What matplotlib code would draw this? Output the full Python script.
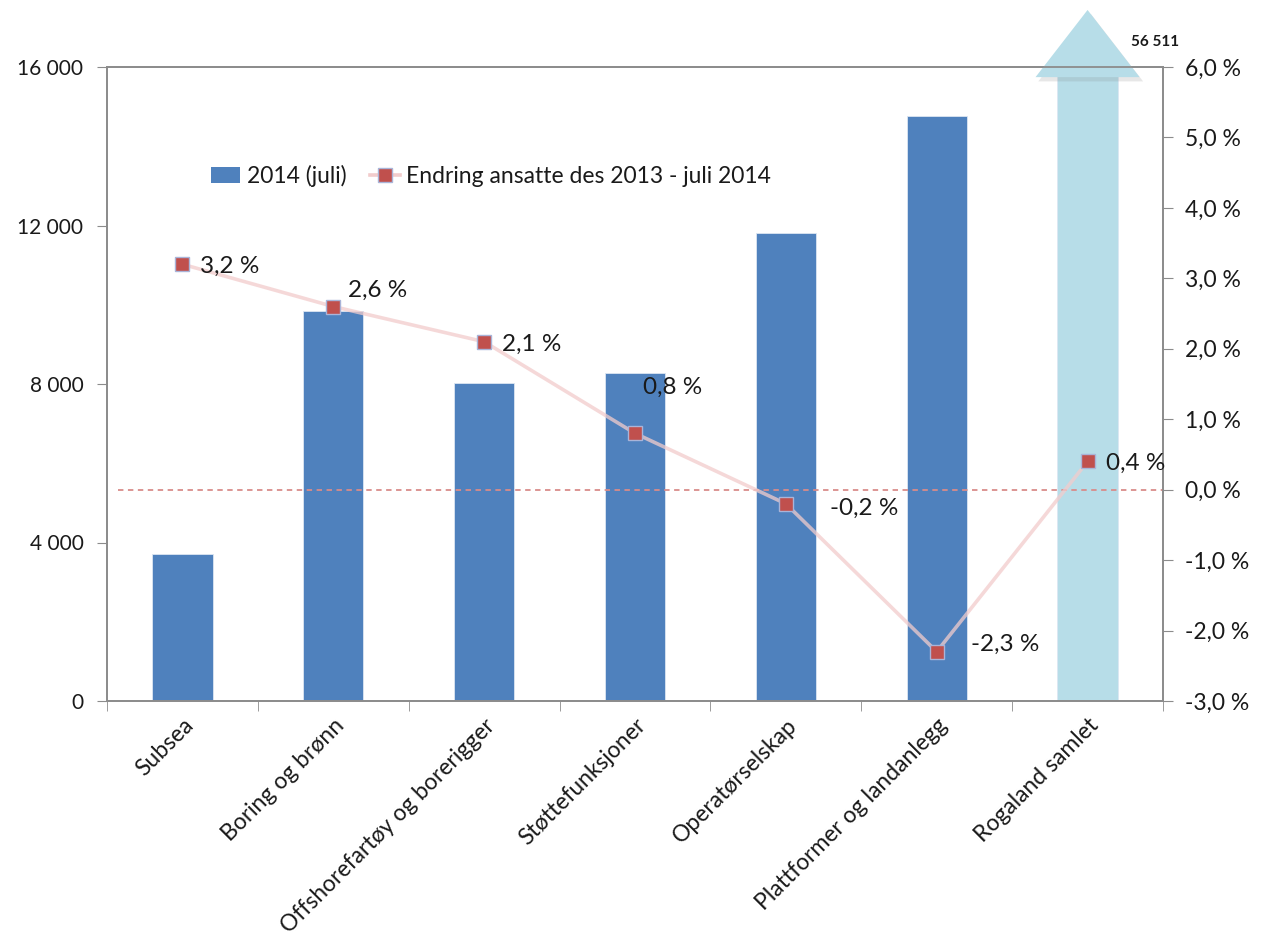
import matplotlib.pyplot as plt
import matplotlib.transforms as mtransforms
from matplotlib.patches import Polygon, Patch
from matplotlib.lines import Line2D
from matplotlib.ticker import FuncFormatter, FixedLocator

# data
categories = ["Subsea", "Boring og brønn", "Offshorefartøy og borerigger",
              "Støttefunksjoner", "Operatørselskap", "Plattformer og landanlegg",
              "Rogaland samlet"]
ansatte_2014 = [3700, 9850, 8030, 8280, 11800, 14760, 56511]
endring_pct = [3.2, 2.6, 2.1, 0.8, -0.2, -2.3, 0.4]
left_ticks = [0, 4000, 8000, 12000, 16000]
right_ticks = [-3, -2, -1, 0, 1, 2, 3, 4, 5, 6]

# label offsets (pixels) for the percentage labels
label_offsets = [(18, -2), (15, 16), (18, -3), (8, 46), (44, -5), (34, 7), (18, -2)]

plt.rcParams['font.family'] = ['Lato', 'DejaVu Sans']

bar_blue = '#4f81bd'
bar_light = '#b7dde8'
axis_grey = '#8c8c8c'
txt = '#1a1a1a'

fig = plt.figure(figsize=(12.64, 9.48), dpi=100)
ax = fig.add_axes([107 / 1264, 1 - 701 / 948, 1056 / 1264, 634 / 948])
x = list(range(len(categories)))

colors = [bar_blue] * (len(categories) - 1) + [bar_light]
ax.bar(x, ansatte_2014, width=0.4, color=colors, edgecolor='#dce6f2', linewidth=0.6, zorder=2)
ax.set_xlim(-0.5, len(categories) - 0.5)
ax.set_ylim(0, 16000)
ax.yaxis.set_major_locator(FixedLocator(left_ticks))
ax.yaxis.set_major_formatter(FuncFormatter(lambda v, p: f"{v:,.0f}".replace(",", " ")))

ax.set_xticks(x)
ax.set_xticklabels(categories, rotation=45, ha='right', rotation_mode='anchor',
                   fontsize=16.5, color=txt)
ax.set_xticks([i - 0.5 for i in range(len(categories) + 1)], minor=True)
ax.tick_params(axis='x', which='major', length=0, pad=10)
ax.tick_params(axis='x', which='minor', length=7, color=axis_grey, direction='out')
ax.tick_params(axis='y', length=7, color=axis_grey, labelsize=15, labelcolor=txt, pad=10)
for s in ax.spines.values():
    s.set_color(axis_grey)
    s.set_linewidth(1.3)

# arrow head on top of the total bar (value goes way above the axis)
trans = mtransforms.blended_transform_factory(ax.transData, ax.transAxes)
xi = len(categories) - 1
shadow = Polygon([(xi - 0.34, 0.982), (xi + 0.355, 0.982), (xi + 0.01, 1.088)],
                 closed=True, transform=trans + mtransforms.ScaledTranslation(2 / 100, -3 / 100, fig.dpi_scale_trans),
                 facecolor='#7f7f7f', alpha=0.18, edgecolor='none', clip_on=False, zorder=5)
ax.add_patch(shadow)
head = Polygon([(xi - 0.345, 0.984), (xi + 0.345, 0.984), (xi, 1.09)], closed=True,
               transform=trans, facecolor=bar_light, edgecolor='none', clip_on=False, zorder=6)
ax.add_patch(head)
ax.text(xi + 0.29, 1.039, f"{ansatte_2014[-1]:,}".replace(",", " "), transform=trans,
        fontsize=11, fontweight='bold', color=txt, ha='left', va='center')

# secondary axis with percentage change
ax2 = ax.twinx()
ax2.set_position(ax.get_position())
ax2.set_ylim(-3, 6)
ax2.yaxis.set_major_locator(FixedLocator(right_ticks))
ax2.yaxis.set_major_formatter(FuncFormatter(lambda v, p: f"{v:.1f} %".replace(".", ",")))
ax2.tick_params(axis='y', length=7, color=axis_grey, labelsize=16.5, labelcolor=txt, pad=9)
for s in ax2.spines.values():
    s.set_color(axis_grey)
    s.set_linewidth(1.3)

ax2.axhline(0, xmin=0.01, xmax=1, color='#d98c8a', linestyle=(0, (3, 2.5)), linewidth=1.3, zorder=1)
ax2.plot(x, endring_pct, color='#f2cccc', linewidth=2.6, alpha=0.75, zorder=3)
ax2.plot(x, endring_pct, linestyle='none', marker='s', markersize=10,
         markerfacecolor='#c0504d', markeredgecolor='#a9b4d8', markeredgewidth=1, zorder=4)

for xv, yv, off in zip(x, endring_pct, label_offsets):
    ax2.annotate(f"{yv:.1f} %".replace(".", ","), (xv, yv), xytext=off,
                 textcoords='offset pixels', ha='left', va='center', fontsize=17.5, color=txt)

handles = [Patch(facecolor=bar_blue, edgecolor='none'),
           Line2D([], [], color='#f2cccc', linewidth=2.6, marker='s', markersize=10,
                  markerfacecolor='#c0504d', markeredgecolor='#a9b4d8')]
fig.legend(handles, ["2014 (juli)", "Endring ansatte des 2013 - juli 2014"],
           loc='center left', bbox_to_anchor=(190 / 1264, 1 - 176 / 948), ncol=2,
           frameon=False, fontsize=16.5, handlelength=1.3, handletextpad=0.3,
           columnspacing=1.0, labelcolor=txt)

fig.savefig('out.png', dpi=100)
